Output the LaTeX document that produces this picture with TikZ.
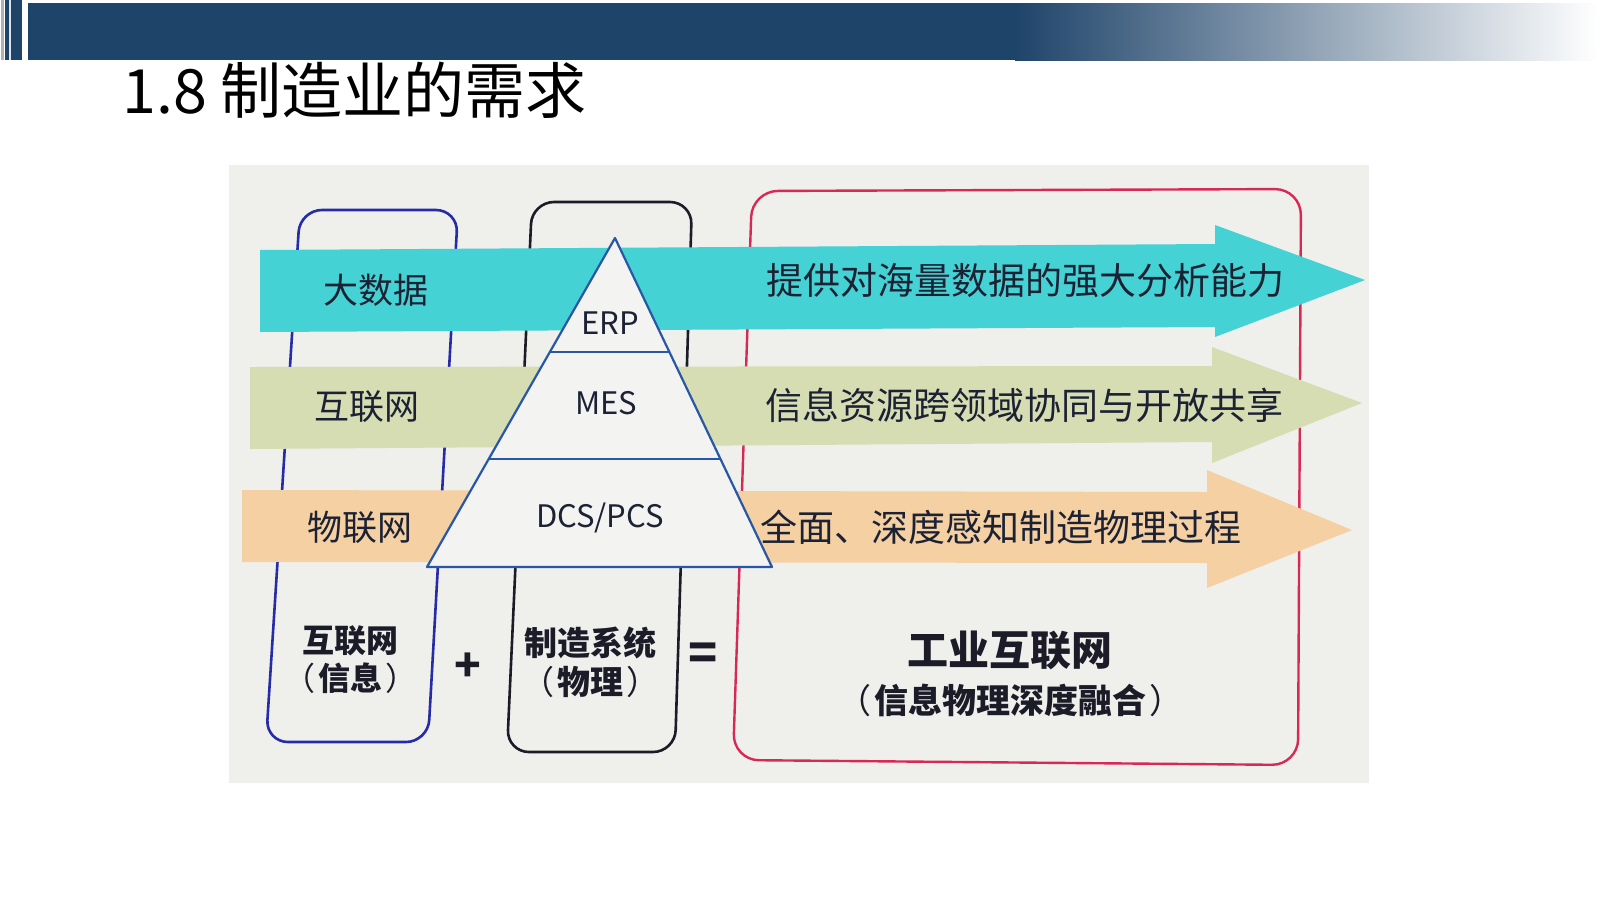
\documentclass[tikz,border=0pt]{standalone}
\usepackage{fontspec}
\setmainfont{Noto Sans CJK SC}
\definecolor{hdr}{RGB}{31,68,106}
\definecolor{photo}{RGB}{239,239,236}
\definecolor{cyanar}{RGB}{69,210,212}
\definecolor{greenar}{RGB}{214,221,178}
\definecolor{orangear}{RGB}{244,208,162}
\definecolor{boxblue}{RGB}{38,44,168}
\definecolor{boxblack}{RGB}{28,28,40}
\definecolor{boxred}{RGB}{216,40,84}
\definecolor{pyrline}{RGB}{40,88,165}
\definecolor{pyrfill}{RGB}{243,243,241}
\definecolor{txt}{RGB}{28,34,52}
\newcommand{\lpar}{{\mdseries（}\hspace{3pt}}
\newcommand{\rpar}{\hspace{3pt}{\mdseries）}}
\begin{document}
\begin{tikzpicture}[x=1pt,y=-1pt,
  boxline/.style={line width=2.6pt, rounded corners=22pt},
  rowlabel/.style={font=\fontsize{35}{40}\selectfont, text=txt, inner sep=0pt},
  arrowtxt/.style={font=\fontsize{37}{42}\selectfont, text=txt, inner sep=0pt},
  pyrtxt/.style={font=\fontsize{31}{35}\selectfont, text=txt, inner sep=0pt},
  boldtxt/.style={font=\bfseries\fontsize{32}{38}\selectfont, text=boxblack, inner sep=0pt}]
\useasboundingbox (0,0) rectangle (1600,900);
\fill[white] (0,0) rectangle (1600,900);
% header bar
\fill[hdr] (28,3) rectangle (1016,60);
\shade[left color=hdr, right color=white] (1015,3) rectangle (1598,60);
\fill[hdr] (5,0) rectangle (22,60);
\fill[white!85!hdr] (9,0) rectangle (11,60);
\fill[gray!60] (1,0) rectangle (3.5,60);
\node[anchor=west, inner sep=0pt, font=\fontsize{61}{66}\selectfont] (title) at (122,90) {1.8 制造业的需求};
% photo background
\fill[photo] (229,165) rectangle (1369,783);
% boxes
\draw[boxline, draw=boxblue] (300,210) -- (458,210) -- (428,742) -- (266,742) -- cycle;
\draw[boxline, draw=boxblack] (532,202) -- (692,202) -- (675,752) -- (507,752) -- cycle;
\draw[boxline, draw=boxred, line width=2.4pt, rounded corners=26pt] (752,191) -- (1301,189) -- (1298,765) -- (733,760) -- cycle;
% arrows
\fill[cyanar] (260,250) -- (1215,244) -- (1215,225) -- (1365,280) -- (1215,337) -- (1215,327) -- (260,332) -- cycle;
\fill[greenar] (250,367) -- (1212,366) -- (1212,347) -- (1362,403) -- (1212,463) -- (1212,442) -- (250,449) -- cycle;
\fill[orangear] (242,490) -- (1207,492) -- (1207,470) -- (1352,530) -- (1207,588) -- (1207,563) -- (242,562) -- cycle;
% pyramid
\coordinate (apex) at (615,238);
\coordinate (bl) at (427,567);
\coordinate (br) at (772,567);
\filldraw[fill=pyrfill, draw=pyrline, line width=2.2pt, line join=round] (apex) -- (br) -- (bl) -- cycle;
\draw[pyrline, line width=2.2pt] (550,352) -- (669,352);
\draw[pyrline, line width=2.2pt] (489,459) -- (720,459);
\node[pyrtxt] (erp) at (610,323) {ERP};
\node[pyrtxt] (mes) at (606,403) {MES};
\node[pyrtxt] (dcs) at (600,518) {DCS/PCS};
% row labels
\node[rowlabel] (bigdata) at (376,290) {大数据};
\node[rowlabel] (inet) at (367,407) {互联网};
\node[rowlabel] (iot) at (360,527) {物联网};
% arrow texts
\node[arrowtxt] (t1) at (1025,281) {提供对海量数据的强大分析能力};
\node[arrowtxt] (t2) at (1024,405) {信息资源跨领域协同与开放共享};
\node[arrowtxt] (t3) at (1001,527) {全面、深度感知制造物理过程};
% bottom labels
\node[boldtxt, align=center] (info) at (350,660) {互联网\\\lpar 信息\rpar};
\node[boldtxt, font=\bfseries\fontsize{44}{48}\selectfont] (plus) at (468,667) {+};
\node[boldtxt, font=\bfseries\fontsize{33}{39}\selectfont, align=center] (phys) at (590,662) {制造系统\\\lpar 物理\rpar};
\node[boldtxt, font=\bfseries\fontsize{48}{52}\selectfont] (eq) at (703,657) {=};
\node[boldtxt, font=\bfseries\fontsize{41}{46}\selectfont] (iiot) at (1010,650) {工业互联网};
\node[boldtxt, font=\bfseries\fontsize{34}{38}\selectfont] (iiotsub) at (1010,700) {\lpar 信息物理深度融合\rpar};
\end{tikzpicture}
\end{document}
